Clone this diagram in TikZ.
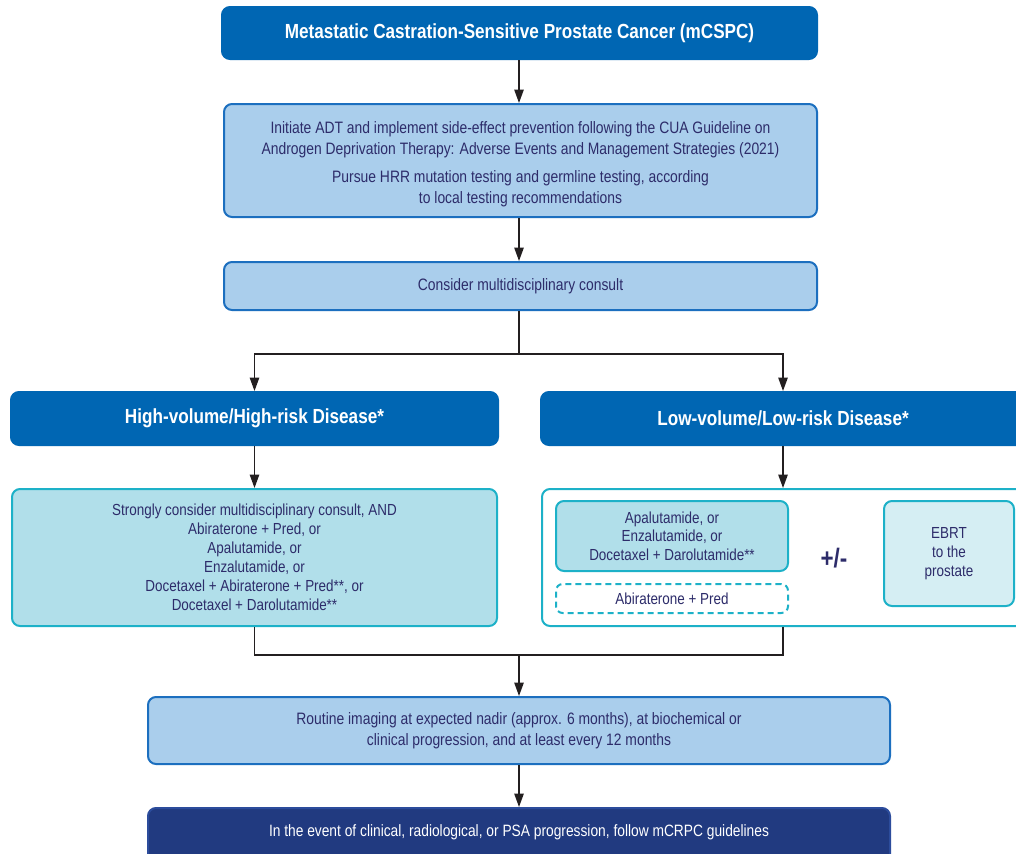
\documentclass[tikz,border=0pt]{standalone}
\usepackage{fontspec}
\setmainfont{Liberation Sans}[FakeStretch=0.84]
\usetikzlibrary{arrows.meta,calc}
\definecolor{hdblue}{HTML}{0066B3}
\definecolor{ltblue}{HTML}{AACEEC}
\definecolor{bdblue}{HTML}{1C6FBF}
\definecolor{tealbd}{HTML}{1DB1C8}
\definecolor{cyfill}{HTML}{B1DFEA}
\definecolor{ebfill}{HTML}{D5EEF3}
\definecolor{navytxt}{HTML}{2D2C6A}
\definecolor{navybox}{HTML}{213A80}
\definecolor{navybd}{HTML}{2C4C9C}
\definecolor{arrowc}{HTML}{231F20}
\begin{document}
\begin{tikzpicture}[x=0.75pt,y=-0.75pt,
  box/.style={rounded corners=6pt, line width=1.5pt, align=center, inner sep=0pt,
    font=\fontsize{12.4}{15.75}\selectfont, text=navytxt},
  hd/.style={box, fill=hdblue, draw=hdblue, text=white, font=\bfseries\fontsize{15.3}{18}\selectfont},
  lb/.style={box, fill=ltblue, draw=bdblue},
  cy/.style={box, fill=cyfill, draw=tealbd},
  arr/.style={-{Triangle[length=10pt,width=7pt]}, line width=1.1pt, draw=arrowc},
  ln/.style={line width=1.1pt, draw=arrowc}]
\useasboundingbox (0,0) rectangle (1016,853);
\clip (0,0) rectangle (1016,853);
\fill[white] (0,0) rectangle (1016,853);

\node[hd, minimum width=446.25pt, minimum height=39pt] (top) at (519.5,33)
  {Metastatic Castration-Sensitive Prostate Cancer (mCSPC)};
\node[lb, minimum width=444.75pt, minimum height=84.75pt] (adt) at (520.5,160.5) {};
\node[align=center, inner sep=0pt, text=navytxt, font=\fontsize{12.4}{15.75}\selectfont] (adttext) at (520.5,164)
  {Initiate ADT and implement side-effect prevention following the CUA Guideline on\\
   Androgen Deprivation Therapy: Adverse Events and Management Strategies (2021)\\[5pt]
   Pursue HRR mutation testing and germline testing, according\\
   to local testing recommendations};
\node[lb, minimum width=444.75pt, minimum height=36pt] (mdc) at (520.5,286)
  {Consider multidisciplinary consult};

\node[hd, minimum width=365.25pt, minimum height=39.75pt] (high) at (254.5,418.5)
  {High-volume/High-risk Disease*};
\node[hd, minimum width=363pt, minimum height=39.75pt] (low) at (783,418.5)
  {Low-volume/Low-risk Disease*};

\node[cy, minimum width=363.75pt, minimum height=102.75pt,
  font=\fontsize{12}{14.25}\selectfont] (hight) at (254.5,557.5)
  {Strongly consider multidisciplinary consult, AND\\
   Abiraterone + Pred, or\\
   Apalutamide, or\\
   Enzalutamide, or\\
   Docetaxel + Abiraterone + Pred**, or\\
   Docetaxel + Darolutamide**};
\node[box, fill=white, draw=tealbd, minimum width=361.5pt, minimum height=102.75pt] (lowc) at (783,557.5) {};
\node[cy, minimum width=174pt, minimum height=52.5pt,
  font=\fontsize{12}{14}\selectfont] (lowt) at (672,536)
  {Apalutamide, or\\
   Enzalutamide, or\\
   Docetaxel + Darolutamide**};
\node[box, fill=white, draw=tealbd, dash pattern=on 4.5pt off 3pt, rounded corners=5pt,
  minimum width=174pt, minimum height=21.75pt, font=\fontsize{12}{14}\selectfont] (abi) at (672,598.5)
  {Abiraterone + Pred};
\node[text=navytxt, font=\bfseries\fontsize{20}{22}\selectfont] (pm) at (834,558) {+/-};
\node[box, fill=ebfill, draw=tealbd, minimum width=97.5pt, minimum height=78.75pt,
  font=\fontsize{12}{14.25}\selectfont] (ebrt) at (949,553.5)
  {EBRT\\ to the\\ prostate};

\node[lb, minimum width=556.5pt, minimum height=50.25pt] (img) at (519,730.5)
  {Routine imaging at expected nadir (approx. 6 months), at biochemical or\\
   clinical progression, and at least every 12 months};
\node[box, fill=navybox, draw=navybd, minimum width=556.5pt, minimum height=50.25pt] (last) at (519,841.5) {};
\node[text=white, font=\fontsize{12.3}{15.75}\selectfont] (lasttext) at (519,832)
  {In the event of clinical, radiological, or PSA progression, follow mCRPC guidelines};

% connectors
\draw[arr] (top.south -| 519,0) -- (adt.north -| 519,0);
\draw[arr] (adt.south -| 519,0) -- (mdc.north -| 519,0);
\coordinate (split) at (519,354);
\draw[ln] (mdc.south -| split) -- (split);
\draw[arr] (split) -| (high.north);
\draw[arr] (split) -| (low.north);
\draw[arr] (high.south) -- (hight.north);
\draw[arr] (low.south) -- (lowc.north);
\coordinate (merge) at (519,655);
\draw[ln] (hight.south) |- (merge) -| (lowc.south);
\draw[arr] (merge) -- (img.north -| merge);
\draw[arr] (img.south -| merge) -- (last.north -| merge);
\end{tikzpicture}
\end{document}
